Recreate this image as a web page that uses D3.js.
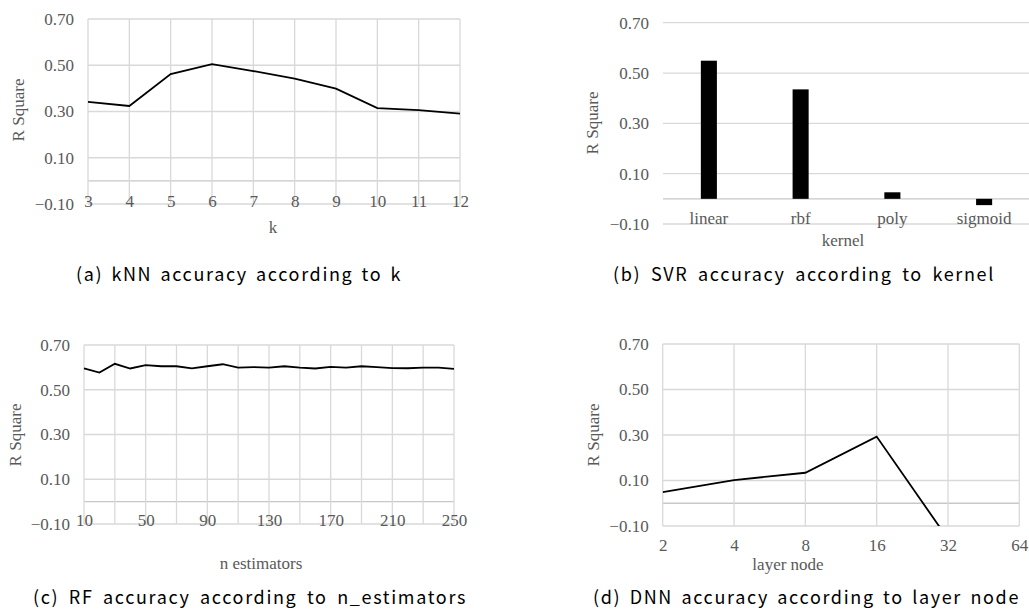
<!DOCTYPE html>
<html>
<head>
<meta charset="utf-8">
<script src="https://cdn.jsdelivr.net/npm/d3@7"></script>
<style>
  body { margin: 0; background: #fff; }
  .tick text { fill: #595959; font-family: "Liberation Serif", serif; font-size: 17px; }
  .title { fill: #595959; font-family: "Liberation Serif", serif; font-size: 17px; }
  .caption { fill: #000; font-family: "Noto Sans CJK KR", "Noto Sans", sans-serif; font-size: 18px; }
</style>
</head>
<body>
<div id="chart"></div>
<script>
// (a) kNN
const kValues = [3, 4, 5, 6, 7, 8, 9, 10, 11, 12];
const knnR2 = [0.342, 0.324, 0.462, 0.505, 0.475, 0.442, 0.399, 0.315, 0.306, 0.291];
// (b) SVR
const kernels = ["linear", "rbf", "poly", "sigmoid"];
const svrR2 = [0.549, 0.435, 0.026, -0.025];
// (c) RF
const nEstimators = [10, 20, 30, 40, 50, 60, 70, 80, 90, 100, 110, 120, 130,
                     140, 150, 160, 170, 180, 190, 200, 210, 220, 230, 240, 250];
const rfR2 = [0.595, 0.577, 0.616, 0.595, 0.610, 0.605, 0.605, 0.596, 0.605, 0.614, 0.599, 0.601, 0.599,
              0.605, 0.599, 0.595, 0.602, 0.599, 0.605, 0.601, 0.597, 0.596, 0.599, 0.599, 0.593];
const rfTicks = [10, 50, 90, 130, 170, 210, 250];
// (d) DNN
const layerNodes = [2, 4, 8, 16, 32];
const dnnR2 = [0.049, 0.102, 0.134, 0.293, -0.157];
const layerTicks = [2, 4, 8, 16, 32, 64];

const yTicks = [-0.1, 0.1, 0.3, 0.5, 0.7];
const captions = [
    "(a) kNN accuracy according to k",
    "(b) SVR accuracy according to kernel",
    "(c) RF accuracy according to n_estimators",
    "(d) DNN accuracy according to layer node"
];

const width = 1029, height = 609;
const gridColor = "#d9d9d9";
const fmt = d3.format(".2f");

const svg = d3.select("#chart").append("svg")
    .attr("width", width)
    .attr("height", height);

// horizontal grid + the zero line
function hGrid(g, x0, x1, y) {
    g.selectAll("line.h").data(yTicks.concat([0])).join("line")
        .attr("class", "h")
        .attr("x1", x0).attr("x2", x1)
        .attr("y1", d => y(d)).attr("y2", d => y(d))
        .attr("stroke", d => d === 0 ? "#c8c8c8" : gridColor)
        .attr("stroke-width", 1.3);
}
function vGrid(g, xs, x, y) {
    g.selectAll("line.v").data(xs).join("line")
        .attr("class", "v")
        .attr("x1", d => x(d)).attr("x2", d => x(d))
        .attr("y1", y(0.7)).attr("y2", y(-0.1))
        .attr("stroke", gridColor)
        .attr("stroke-width", 1.3);
}
function yAxis(g, left, y) {
    g.append("g")
        .attr("transform", `translate(${left},0)`)
        .call(d3.axisLeft(y).tickValues(yTicks).tickSize(0).tickPadding(14).tickFormat(fmt))
        .call(g => g.select(".domain").remove());
}
function xAxis(g, axis, labelY) {
    g.append("g")
        .attr("transform", `translate(0,${labelY})`)
        .call(axis.tickSize(0).tickPadding(0))
        .call(g => g.select(".domain").remove())
        .call(g => g.selectAll("text").attr("dy", "0.35em"));
}
function titles(g, xt, yt) {
    g.append("text").attr("class", "title")
        .attr("x", xt[0]).attr("y", xt[1])
        .attr("text-anchor", "middle").attr("dominant-baseline", "central")
        .text(xt[2]);
    g.append("text").attr("class", "title")
        .attr("transform", `translate(${yt[0]},${yt[1]}) rotate(-90)`)
        .attr("text-anchor", "middle").attr("dominant-baseline", "central")
        .attr("textLength", 63).attr("lengthAdjust", "spacing")
        .text("R Square");
}

// ---------- (a) kNN ----------
{
    const g = svg.append("g");
    const x = d3.scalePoint().domain(kValues).range([88, 460]);
    const y = d3.scaleLinear().domain([-0.1, 0.7]).range([204, 19]);
    hGrid(g, 88, 460, y);
    vGrid(g, kValues, x, y);
    yAxis(g, 88, y);
    xAxis(g, d3.axisBottom(x), 201);
    titles(g, [273, 227, "k"], [18, 110]);
    g.append("path")
        .datum(kValues.map((k, i) => [k, knnR2[i]]))
        .attr("fill", "none").attr("stroke", "#000").attr("stroke-width", 1.8)
        .attr("d", d3.line().x(d => x(d[0])).y(d => y(d[1])));
}

// ---------- (b) SVR ----------
{
    const g = svg.append("g");
    const x = d3.scaleBand().domain(kernels).range([663, 1030]);
    const y = d3.scaleLinear().domain([-0.1, 0.7]).range([224, 22.7]);
    hGrid(g, 663, 1030, y);
    yAxis(g, 663, y);
    const barW = x.bandwidth() * 0.175;
    g.selectAll("rect").data(kernels).join("rect")
        .attr("x", d => x(d) + x.bandwidth() / 2 - barW / 2)
        .attr("width", barW)
        .attr("y", (d, i) => y(Math.max(0, svrR2[i])))
        .attr("height", (d, i) => Math.abs(y(svrR2[i]) - y(0)))
        .attr("fill", "#000");
    xAxis(g, d3.axisBottom(x), 218);
    titles(g, [843, 240, "kernel"], [592, 123]);
}

// ---------- (c) RF ----------
{
    const g = svg.append("g");
    const x = d3.scaleLinear().domain([10, 250]).range([84, 454]);
    const y = d3.scaleLinear().domain([-0.1, 0.7]).range([524, 345]);
    hGrid(g, 84, 454, y);
    vGrid(g, d3.range(10, 251, 20), x, y);
    yAxis(g, 84, y);
    xAxis(g, d3.axisBottom(x).tickValues(rfTicks).tickFormat(d3.format("d")), 520.5);
    titles(g, [261, 563, "n estimators"], [15, 435]);
    g.append("path")
        .datum(nEstimators.map((n, i) => [n, rfR2[i]]))
        .attr("fill", "none").attr("stroke", "#000").attr("stroke-width", 1.8)
        .attr("d", d3.line().x(d => x(d[0])).y(d => y(d[1])));
}

// ---------- (d) DNN ----------
{
    const g = svg.append("g");
    const x = d3.scaleLog().base(2).domain([2, 64]).range([662.7, 1019.3]);
    const y = d3.scaleLinear().domain([-0.1, 0.7]).range([526, 344]);
    hGrid(g, 662.7, 1019.3, y);
    vGrid(g, layerTicks, x, y);
    yAxis(g, 662.7, y);
    xAxis(g, d3.axisBottom(x).tickValues(layerTicks).tickFormat(d3.format("d")), 545);
    titles(g, [788, 564, "layer node"], [593, 435]);
    svg.append("clipPath").attr("id", "clipD")
        .append("rect").attr("x", 662.7).attr("y", 344)
        .attr("width", 1019.3 - 662.7).attr("height", 526 - 344);
    g.append("path")
        .datum(layerNodes.map((n, i) => [n, dnnR2[i]]))
        .attr("clip-path", "url(#clipD)")
        .attr("fill", "none").attr("stroke", "#000").attr("stroke-width", 1.8)
        .attr("d", d3.line().x(d => x(d[0])).y(d => y(d[1])));
}

// ---------- captions, stretched to the widths in the figure ----------
const capPos = [[76, 402, 273], [613, 995, 273], [33, 467, 596], [593, 1020, 596]];
const caps = captions.map((c, i) => svg.append("text").attr("class", "caption")
    .attr("x", capPos[i][0]).attr("y", capPos[i][2])
    .attr("dominant-baseline", "central")
    .text(c));
// caption (b) is set without extra word gaps: take the letter spacing from it
const bNatural = caps[1].node().getComputedTextLength();
const letterSp = (capPos[1][1] - capPos[1][0] - bNatural - 5 * 4) / captions[1].length;
caps.forEach((t, i) => {
    t.attr("letter-spacing", letterSp);
    const len = t.node().getComputedTextLength();
    const spaces = captions[i].split(" ").length - 1;
    t.attr("word-spacing", Math.max(0, (capPos[i][1] - capPos[i][0] - len) / spaces));
});
</script>
</body>
</html>
